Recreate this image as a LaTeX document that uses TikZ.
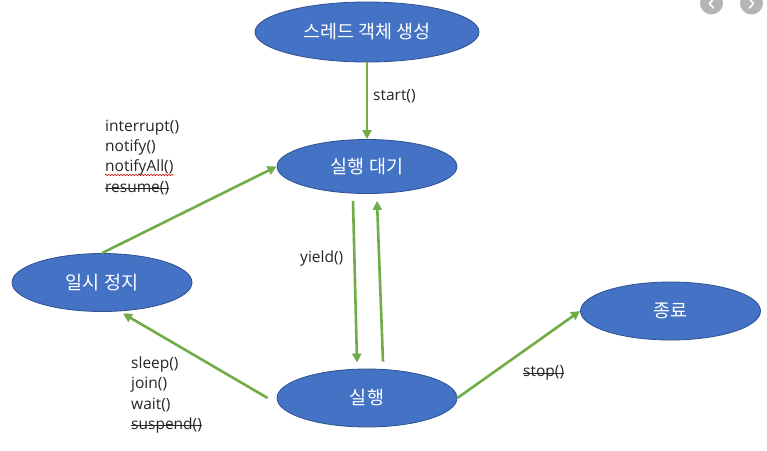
\documentclass[tikz,border=0pt]{standalone}
\usepackage{fontspec}
\setmainfont{Open Sans}
\newfontfamily\krfont{Noto Sans CJK KR}
\usetikzlibrary{shapes.geometric,arrows.meta,calc,decorations.pathmorphing}
\definecolor{stateblue}{HTML}{4472C4}
\definecolor{stateedge}{HTML}{2F528F}
\definecolor{flowgreen}{HTML}{70AD47}
\definecolor{navgray}{HTML}{B5B5B5}
\definecolor{labeltext}{HTML}{262626}

\begin{document}
\begin{tikzpicture}[x=1pt,y=-1pt,
  state/.style={ellipse,draw=stateedge,line width=0.8pt,fill=stateblue,text=white,
    font=\krfont\fontsize{18.5}{22}\selectfont,minimum width=180pt,minimum height=58pt,inner sep=0pt},
  flow/.style={draw=flowgreen,line width=2.6pt,-{Triangle[length=9pt,width=9pt]}},
  lbl/.style={anchor=west,inner sep=0pt,text=labeltext,font=\fontsize{15.5}{18}\selectfont},
  strike/.style={draw=labeltext,line width=0.9pt},
  squiggle/.style={draw=red!85!black,line width=0.6pt,
    decorate,decoration={snake,segment length=3pt,amplitude=0.7pt}},
  navdisc/.style={fill=navgray},
  chevron/.style={draw=white,line width=1.6pt,line cap=round,line join=round}
]
\fill[white] (0,0) rectangle (767,450);
\useasboundingbox (0,0) rectangle (767,450);

% gallery navigation buttons, cut off at the top edge
\begin{scope}
  \clip (0,0) rectangle (767,450);
  \fill[navdisc] (711.5,3) circle (11.5);
  \fill[navdisc] (751.5,3) circle (11.5);
  \draw[chevron] (713.5,-1) -- (709.5,3.5) -- (713.5,8);
  \draw[chevron] (749.5,-1) -- (753.5,3.5) -- (749.5,8);
\end{scope}

% thread states
\node[state,minimum width=224pt,minimum height=60pt] (create) at (367,32) {스레드 객체 생성};
\node[state,minimum height=54pt] (wait)  at (367,166.5) {실행 대기};
\node[state] (pause) at (102,282.5) {일시 정지};
\node[state] (dead)  at (670.5,311) {종료};
\node[state] (run)   at (367,398) {실행};

% arrow end points away from the ellipse borders
\coordinate (ydown0) at ($(wait.south)+(-14,7)$);
\coordinate (ydown1) at ($(run.north)+(-10,-6)$);
\coordinate (yup0)   at ($(run.north)+(16,-7)$);
\coordinate (yup1)   at ($(wait.south)+(10,7)$);
\coordinate (sleep0) at ($(run.west)+(-9,0)$);
\coordinate (sleep1) at ($(pause.center)+(21,31)$);

% transitions
\draw[flow] (create.south) -- (wait.north);
\draw[flow] (pause.north) -- (wait.west);
\draw[flow] (ydown0) -- (ydown1);
\draw[flow] (yup0) -- (yup1);
\draw[flow] (sleep0) -- (sleep1);
\draw[flow] (run.east) -- (dead.west);

% method labels
\node[lbl] (lstart) at (373,96) {start()};
\node[lbl] (lyield) at (300,258) {yield()};

\node[lbl] (lint)    at (105,127.5) {interrupt()};
\node[lbl] (lnotify) at (105,147.5) {notify()};
\node[lbl] (lnall)   at (105,167.5) {notifyAll()};
\node[lbl] (lresume) at (105,188) {resume()};
\draw[strike] (lresume.west) -- (lresume.east);
\draw[squiggle] ($(lnall.base west)+(0,3.4)$) -- ($(lnall.base east)+(0,3.4)$);

\node[lbl] (lsleep)   at (131,364.5) {sleep()};
\node[lbl] (ljoin)    at (131,384.5) {join()};
\node[lbl] (lwaitm)   at (131,405) {wait()};
\node[lbl] (lsuspend) at (131,425) {suspend()};
\draw[strike] (lsuspend.west) -- (lsuspend.east);

\node[lbl] (lstop) at (523,373) {stop()};
\draw[strike] (lstop.west) -- (lstop.east);
\end{tikzpicture}
\end{document}
